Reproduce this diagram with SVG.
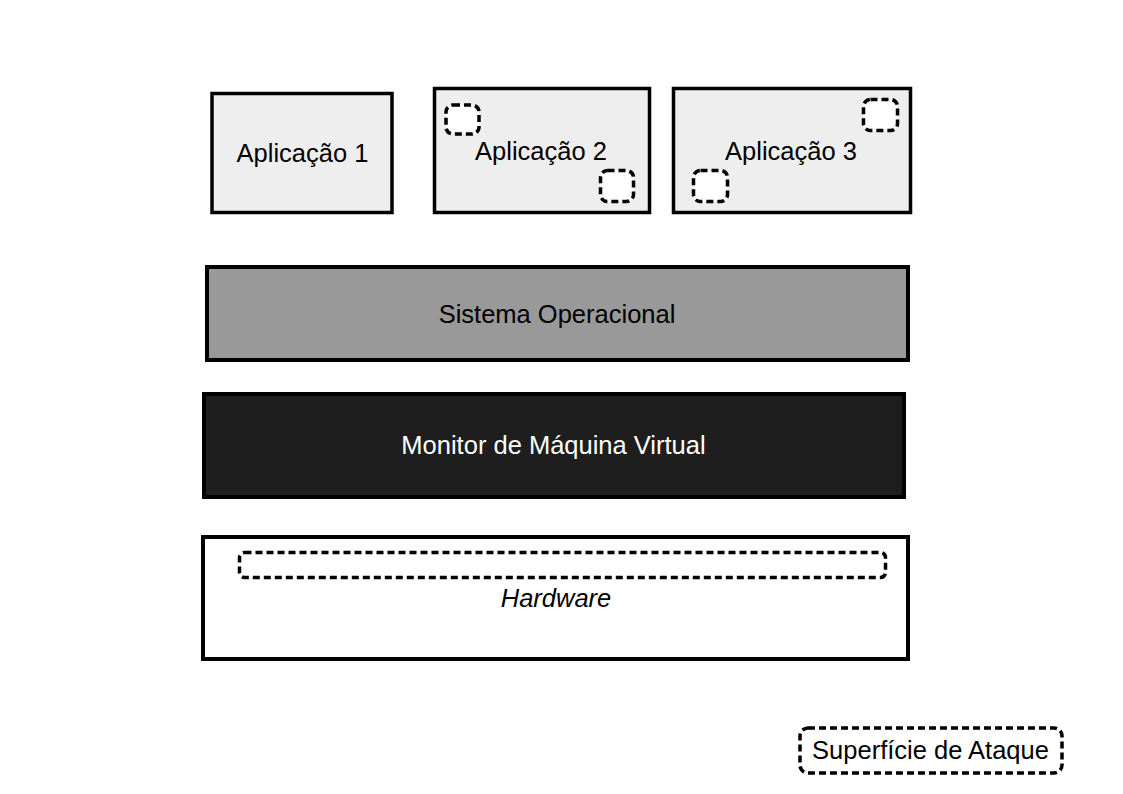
<svg xmlns="http://www.w3.org/2000/svg" width="1123" height="794" viewBox="0 0 1123 794">
<style>
text{font-family:"Liberation Sans",Arial,sans-serif;font-size:25.5px;text-anchor:middle;fill:#000}
.app{fill:#eeeeee;stroke:#000;stroke-width:3.5}
.layer{stroke:#000;stroke-width:4}
.atk{fill:#fff;stroke:#000;stroke-width:3.5;stroke-dasharray:7 4}
</style>
<rect width="1123" height="794" fill="#fff"/>
<g id="app1">
<rect class="app" x="212" y="93.5" width="180" height="119"/>
<text x="302.5" y="162">Aplicação 1</text>
</g>
<g id="app2">
<rect class="app" x="434.5" y="88.5" width="215" height="124"/>
<text x="541" y="160">Aplicação 2</text>
<rect class="atk" x="446" y="105" width="33" height="29" rx="7"/>
<rect class="atk" x="600.5" y="170.5" width="33" height="31" rx="7"/>
</g>
<g id="app3">
<rect class="app" x="673.5" y="88.5" width="237" height="124"/>
<text x="791" y="160">Aplicação 3</text>
<rect class="atk" x="863.5" y="99.5" width="34" height="31" rx="7"/>
<rect class="atk" x="693.5" y="170.5" width="34" height="31" rx="7"/>
</g>
<g id="so">
<rect class="layer" x="207" y="267" width="701" height="93" fill="#999999"/>
<text x="557" y="323">Sistema Operacional</text>
</g>
<g id="mvm">
<rect class="layer" x="204" y="394" width="700" height="103" fill="#1e1e1e"/>
<text x="553.5" y="454" style="fill:#fff">Monitor de Máquina Virtual</text>
</g>
<g id="hardware">
<rect class="layer" x="203" y="537" width="705" height="122" fill="#fff"/>
<rect class="atk" x="239.5" y="552.5" width="646" height="25" rx="5"/>
<text x="556" y="607" font-style="italic">Hardware</text>
</g>
<g id="legend">
<rect class="atk" x="800" y="728" width="262" height="45" rx="8"/>
<text x="930.5" y="759">Superfície de Ataque</text>
</g>
<g id="connectors"></g>
</svg>
